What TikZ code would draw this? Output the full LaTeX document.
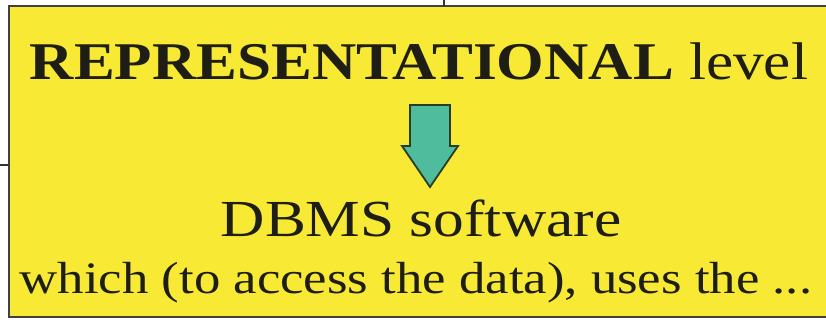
\documentclass[tikz,border=0pt]{standalone}
\usepackage{fontspec}
\setmainfont{Liberation Serif}
\definecolor{panelyellow}{RGB}{247,233,52}
\definecolor{arrowteal}{RGB}{80,188,158}
\definecolor{arrowedge}{RGB}{40,62,36}
\definecolor{inkdark}{RGB}{30,30,22}
\begin{document}
\begin{tikzpicture}[x=1pt,y=1pt,
  panel/.style={draw=black!75,line width=1.6pt,fill=panelyellow},
  heading/.style={anchor=base,inner sep=0pt,text=inkdark},
  downarrow/.style={fill=arrowteal,draw=arrowedge,line width=1.8pt,line join=miter},
  link/.style={draw=black!80,line width=1.2pt}]
\useasboundingbox (0,0) rectangle (826,321);
% yellow panel, running past the right edge
\path[panel] (9,4) rectangle (840,315);
% stubs of the connectors entering the panel
\coordinate (topin) at (444,321);
\coordinate (topend) at (444,315);
\coordinate (leftin) at (0,156);
\coordinate (leftend) at (9,156);
\draw[link] (topin) -- (topend);
\draw[link] (leftin) -- (leftend);
% text lines
\node[heading] (rep) at (419,241) {\fontsize{53}{60}\selectfont\scalebox{1.155}[1]{\textbf{REPRESENTATIONAL} level}};
\node[heading] (dbms) at (421,84) {\fontsize{52}{60}\selectfont\scalebox{1.18}[1]{DBMS software}};
\node[heading] (which) at (416,28) {\fontsize{45}{52}\selectfont\scalebox{1.172}[1]{which (to access the data), uses the ...}};
% block arrow
\path[downarrow] (410,216) -- (450,216) -- (450,175) -- (458,175) -- (430,134)
  -- (402,175) -- (410,175) -- cycle;
\end{tikzpicture}
\end{document}
